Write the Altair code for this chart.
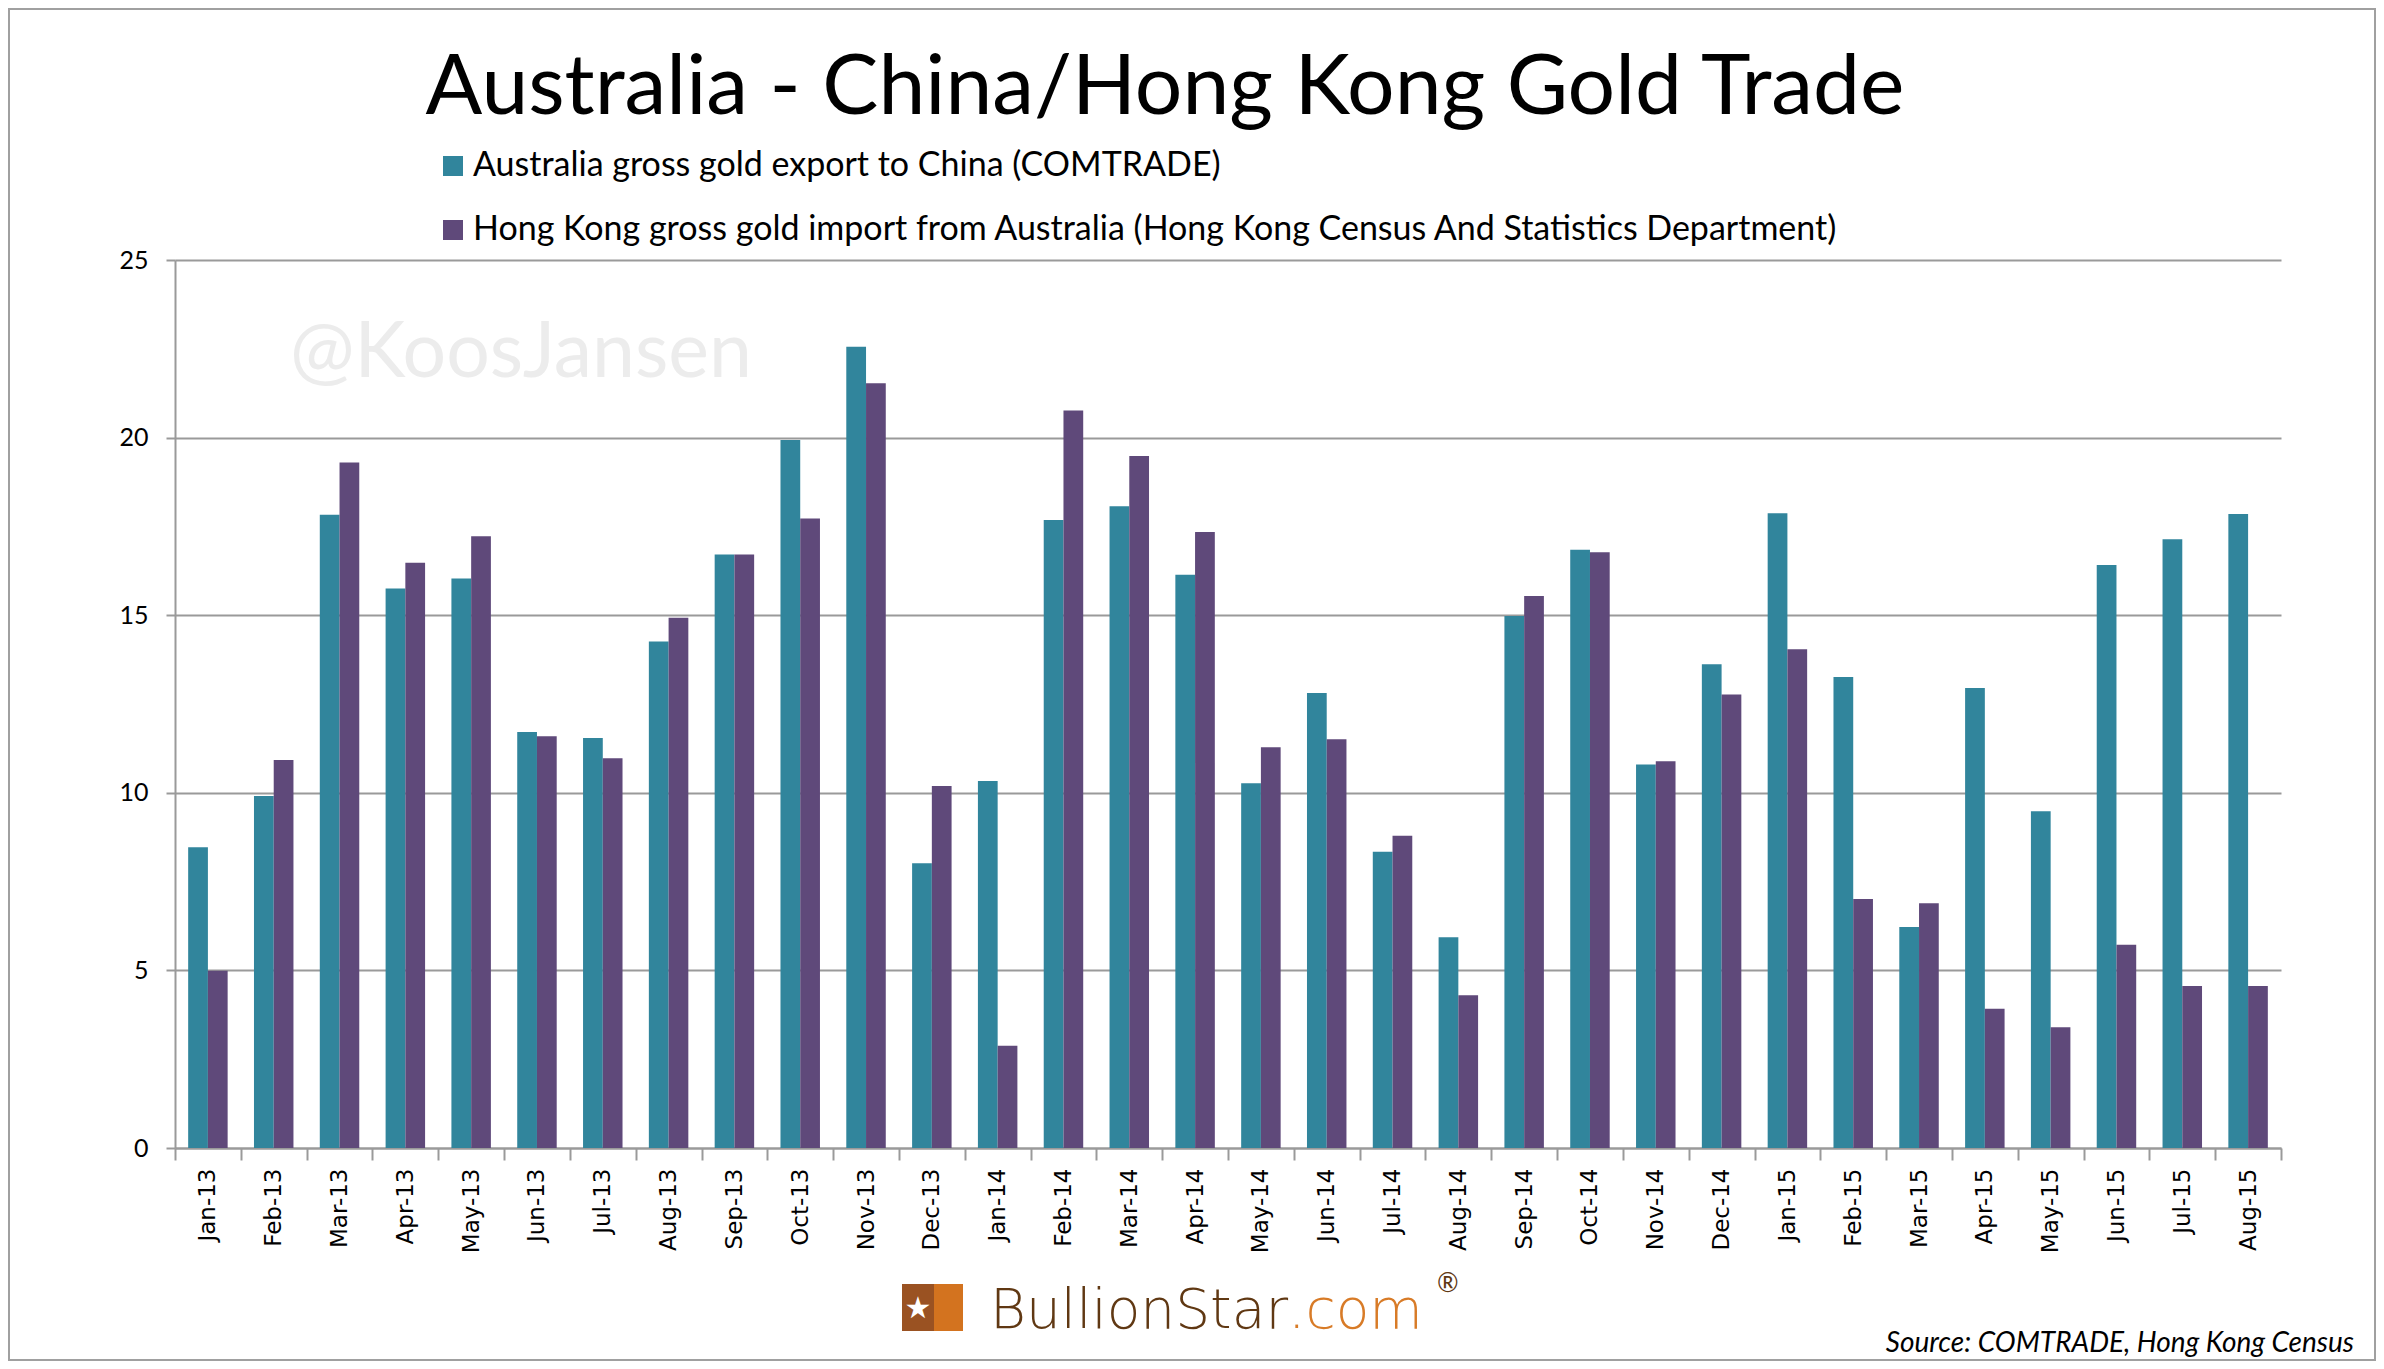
import altair as alt
import pandas as pd

MONTHS = ["Jan-13", "Feb-13", "Mar-13", "Apr-13", "May-13", "Jun-13", "Jul-13", "Aug-13",
          "Sep-13", "Oct-13", "Nov-13", "Dec-13", "Jan-14", "Feb-14", "Mar-14", "Apr-14",
          "May-14", "Jun-14", "Jul-14", "Aug-14", "Sep-14", "Oct-14", "Nov-14", "Dec-14",
          "Jan-15", "Feb-15", "Mar-15", "Apr-15", "May-15", "Jun-15", "Jul-15", "Aug-15"]
AUS = [8.47, 9.91, 17.83, 15.75, 16.03, 11.71, 11.54, 14.26, 16.71, 19.93, 22.56, 8.02,
       10.33, 17.68, 18.07, 16.14, 10.27, 12.81, 8.34, 5.93, 14.98, 16.84, 10.80, 13.62,
       17.87, 13.26, 6.22, 12.95, 9.48, 16.41, 17.14, 17.85]
HK = [4.99, 10.92, 19.30, 16.48, 17.22, 11.59, 10.97, 14.93, 16.71, 17.72, 21.53, 10.19,
      2.88, 20.76, 19.48, 17.34, 11.28, 11.51, 8.79, 4.30, 15.54, 16.77, 10.89, 12.77,
      14.04, 7.01, 6.89, 3.92, 3.40, 5.72, 4.56, 4.56]
SERIES = ["Australia gross gold export to China (COMTRADE)",
          "Hong Kong gross gold import from Australia (Hong Kong Census And Statistics Department)"]
COLORS = ["#31859C", "#5F497A"]
Y_TICKS = [0, 5, 10, 15, 20, 25]

TITLE = "Australia - China/Hong Kong Gold Trade"
WATERMARK = "@KoosJansen"
SOURCE = "Source: COMTRADE, Hong Kong Census"

rows = []
for m, a, h in zip(MONTHS, AUS, HK):
    rows.append({"month": m, "series": SERIES[0], "value": a})
    rows.append({"month": m, "series": SERIES[1], "value": h})
df = pd.DataFrame(rows)

W, H = 2106, 888
PL, PT = 167, 252
TOTAL_W, TOTAL_H = 2368, 1353
GRAY = "#9a9a9a"

bars = alt.Chart(df).mark_bar().encode(
    x=alt.X("month:N", sort=MONTHS,
            scale=alt.Scale(paddingInner=0, paddingOuter=0),
            axis=alt.Axis(title=None, labelAngle=270, labelFont="DejaVu Sans", labelFontSize=23,
                          labelColor="#000", tickBand="extent", tickSize=12, tickColor=GRAY,
                          tickWidth=2, labelPadding=8, domainColor=GRAY, domainWidth=2, grid=False)),
    xOffset=alt.XOffset("series:N", sort=SERIES,
                        scale=alt.Scale(paddingInner=0, paddingOuter=0.667)),
    y=alt.Y("value:Q", scale=alt.Scale(domain=[0, 25], nice=False),
            axis=alt.Axis(title=None, values=Y_TICKS, labelFont="Lato", labelFontSize=25,
                          labelColor="#000", tickSize=9, tickColor=GRAY, tickWidth=2,
                          labelPadding=18, domainColor=GRAY, domainWidth=2,
                          grid=True, gridColor=GRAY, gridWidth=2)),
    color=alt.Color("series:N", sort=SERIES,
                    scale=alt.Scale(domain=SERIES, range=COLORS),
                    legend=alt.Legend(title=None, orient="none", legendX=261, legendY=-111,
                                      direction="vertical", symbolType="square", symbolSize=400,
                                      symbolStrokeWidth=0, labelFont="Lato", labelFontSize=34,
                                      labelColor="#000", rowPadding=30, labelLimit=2000,
                                      labelOffset=3, padding=0)),
)


def text_layer(text, x, y, size, color, font="Lato", weight="normal", style="normal",
               align="left", baseline="alphabetic"):
    return alt.Chart(pd.DataFrame({"t": [text]})).mark_text(
        align=align, baseline=baseline, font=font, fontSize=size, fontWeight=weight,
        fontStyle=style, color=color
    ).encode(text="t:N", x=alt.value(x), y=alt.value(y))


def box(x, x2, y, y2, color):
    return alt.Chart(pd.DataFrame({"k": [0]})).mark_rect(color=color).encode(
        x=alt.value(x), x2=alt.value(x2), y=alt.value(y), y2=alt.value(y2))


frame = alt.Chart(pd.DataFrame({"k": [0]})).mark_rect(
    fillOpacity=0, stroke="#a0a0a0", strokeWidth=2
).encode(x=alt.value(-PL + 1), x2=alt.value(TOTAL_W - PL - 1),
         y=alt.value(-PT + 1), y2=alt.value(TOTAL_H - PT - 1))

layers = [
    frame,
    text_layer(WATERMARK, 115, 117, 77, "#ececec"),
    bars,
    text_layer(TITLE, 990, -146, 84, "#000", align="center"),
    box(727, 759, 1024, 1071, "#9a5222"),
    box(759, 788, 1024, 1071, "#d3731f"),
    text_layer("\u2605", 743, 1058, 30, "#ffffff", font="DejaVu Sans", align="center"),
    text_layer("BullionStar", 1113, 1068, 55, "#603813", font="DejaVu Sans", weight=200,
               align="right"),
    text_layer(".com", 1113, 1068, 55, "#d87b27", font="DejaVu Sans", weight=200),
    text_layer("\u00ae", 1262, 1032, 26, "#603813"),
    text_layer(SOURCE, 2179, 1092, 28, "#000", style="italic", align="right"),
]

chart = alt.layer(*layers).properties(
    width=W, height=H,
    padding={"left": PL, "top": PT, "right": TOTAL_W - PL - W, "bottom": TOTAL_H - PT - H},
    autosize=alt.AutoSizeParams(type="none"),
    background="white",
).configure_view(stroke=None)

chart.save("out.html", embed_options={"renderer": "svg", "actions": False})
